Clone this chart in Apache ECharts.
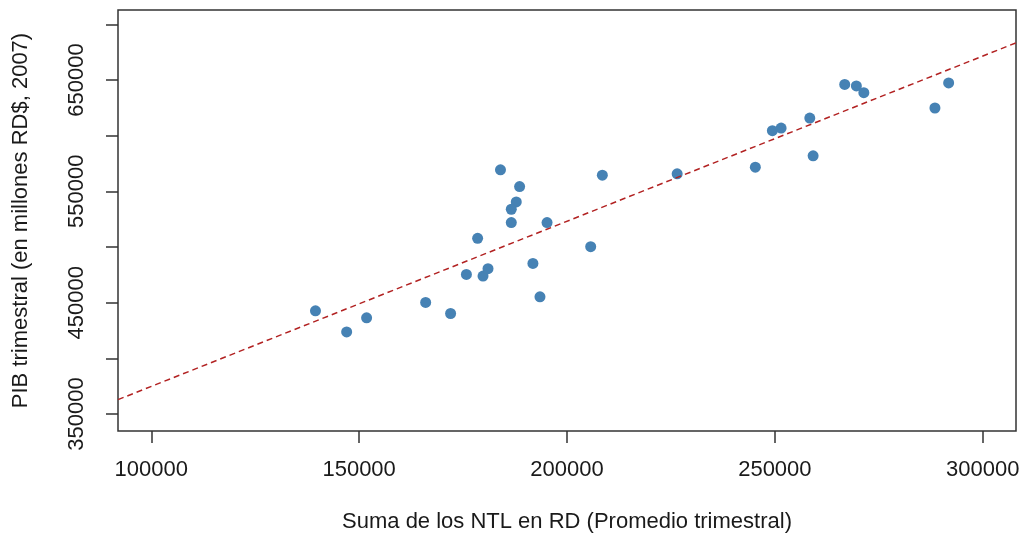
<!DOCTYPE html>
<html>
<head>
<meta charset="utf-8">
<script src="https://cdn.jsdelivr.net/npm/echarts@6/dist/echarts.min.js"></script>
<style>
  html, body { margin: 0; padding: 0; background: #fff; }
  #chart { width: 1024px; height: 539px; }
</style>
</head>
<body>
<div id="chart"></div>
<script>
// Suma de NTL (promedio trimestral) y PIB trimestral
const ntl = [139500, 147000, 151800, 166000, 172000, 175800, 178500, 179800, 181000, 184000,
  188600, 187800, 186600, 186600, 195200, 191800, 193500, 205700, 208500, 226500,
  245300, 249400, 251500, 258400, 259200, 266800, 269600, 271400, 288500, 291800];
const pib = [442700, 423800, 436400, 450200, 440300, 475400, 507800, 473900, 480500, 569300,
  554300, 540500, 533900, 521900, 521900, 485300, 455300, 500300, 564500, 565700,
  571700, 604400, 606800, 615800, 581900, 646000, 644600, 638600, 624800, 647300];

// recta de regresion (extremos)
const fitX = [92000, 308000];
const fitY = [362960, 683300];

const xTicks = [100000, 150000, 200000, 250000, 300000];
const yTicks = [350000, 400000, 450000, 500000, 550000, 600000, 650000, 700000];
const yLabels = [350000, 450000, 550000, 650000];

const font = "Liberation Sans";
const ink = "#1a1a1a";

let myChart = echarts.init(document.getElementById("chart"));
let option = {
  animation: false,
  grid: {
    left: 118,
    right: 8,
    top: 10,
    bottom: 108,
    show: true,
    borderColor: "#333",
    borderWidth: 1.5,
    backgroundColor: "transparent",
  },
  xAxis: {
    type: "value",
    min: 92000,
    max: 308000,
    name: "Suma de los NTL en RD (Promedio trimestral)",
    nameLocation: "middle",
    nameGap: 80,
    nameTextStyle: { fontFamily: font, fontSize: 22, color: ink },
    axisLine: { show: false },
    splitLine: { show: false },
    axisTick: {
      show: true,
      inside: false,
      length: 12,
      customValues: xTicks,
      lineStyle: { color: "#333", width: 1.5 },
    },
    axisLabel: {
      customValues: xTicks,
      formatter: (v) => String(v),
      margin: 28,
      fontFamily: font,
      fontSize: 22,
      color: ink,
    },
  },
  yAxis: {
    type: "value",
    min: 334800,
    max: 712800,
    name: "PIB trimestral (en millones RD$, 2007)",
    nameLocation: "middle",
    nameGap: 86,
    nameTextStyle: { fontFamily: font, fontSize: 22, color: ink },
    axisLine: { show: false },
    splitLine: { show: false },
    axisTick: {
      show: true,
      inside: false,
      length: 12,
      customValues: yTicks,
      lineStyle: { color: "#333", width: 1.5 },
    },
    axisLabel: {
      customValues: yLabels,
      formatter: (v) => String(v),
      rotate: 90,
      margin: 30,
      fontFamily: font,
      fontSize: 22,
      color: ink,
    },
  },
  series: [
    {
      type: "scatter",
      data: ntl.map((v, i) => [v, pib[i]]),
      symbolSize: 11,
      itemStyle: { color: "#4682B4", opacity: 1 },
      z: 2,
    },
    {
      type: "line",
      data: fitX.map((v, i) => [v, fitY[i]]),
      showSymbol: false,
      lineStyle: { color: "#B22222", width: 1.5, type: [6, 4] },
      z: 3,
    },
  ],
};
myChart.setOption(option);
</script>
</body>
</html>
